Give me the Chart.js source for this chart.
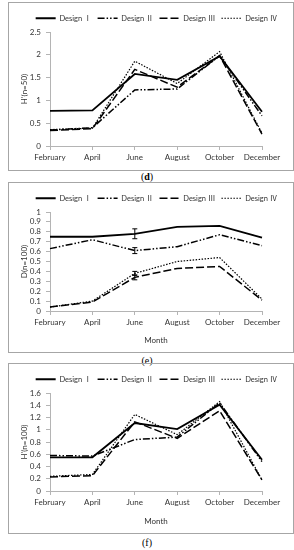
<!DOCTYPE html>
<html>
<head>
<meta charset="utf-8">
<script src="https://cdn.jsdelivr.net/npm/chart.js@4.4.0/dist/chart.umd.min.js"></script>
<style>
  body { margin: 0; background: #fff; width: 294px; height: 550px; position: relative; overflow: hidden; }
  .box { position: absolute; left: 8px; width: 284px; border: 1px solid #a6a6a6; }
  .box canvas { display: block; }
  .cap { position: absolute; left: 0; width: 294px; text-align: center; font-family: 'Liberation Serif', serif; font-size: 10px; color: #000; }
</style>
</head>
<body>
<div class="box" style="top:2px;height:167px"><canvas id="chartD" width="284" height="167"></canvas></div>
<div class="cap" style="top:171px">(<b>d</b>)</div>
<div class="box" style="top:182px;height:169px"><canvas id="chartE" width="284" height="169"></canvas></div>
<div class="cap" style="top:355px">(e)</div>
<div class="box" style="top:363px;height:169px"><canvas id="chartF" width="284" height="169"></canvas></div>
<div class="cap" style="top:537px">(f)</div>

<script>
const months = ['February', 'April', 'June', 'August', 'October', 'December'];
const designs = ['Design \u2160', 'Design \u2161', 'Design \u2162', 'Design \u2163'];

// (d) H'(n=50)
const hd1 = [0.77, 0.78, 1.58, 1.45, 1.97, 0.75];
const hd2 = [0.35, 0.40, 1.23, 1.25, 1.98, 0.66];
const hd3 = [0.34, 0.38, 1.68, 1.29, 1.98, 0.26];
const hd4 = [0.36, 0.39, 1.86, 1.37, 2.07, 0.28];

// (e) D(n=100)
const de1 = [0.75, 0.75, 0.78, 0.85, 0.86, 0.74];
const de2 = [0.63, 0.72, 0.61, 0.65, 0.77, 0.66];
const de3 = [0.04, 0.09, 0.34, 0.43, 0.45, 0.11];
const de4 = [0.04, 0.10, 0.38, 0.50, 0.54, 0.12];
// error bars (+/-) for (e)
const errE1 = [0, 0, 0.05, 0, 0, 0];
const errE2 = [0, 0, 0.03, 0, 0, 0];
const errE3 = [0, 0, 0.025, 0, 0, 0];
const errE4 = [0, 0, 0.02, 0, 0, 0];

// (f) H'(n=100)
const hf1 = [0.55, 0.55, 1.11, 1.01, 1.41, 0.51];
const hf2 = [0.58, 0.57, 0.84, 0.88, 1.44, 0.48];
const hf3 = [0.23, 0.25, 1.13, 0.86, 1.31, 0.18];
const hf4 = [0.24, 0.27, 1.25, 0.92, 1.46, 0.18];

const FONT = "Lato, 'Noto Sans CJK SC', sans-serif";
const AXIS_GREY = '#b4b4b4';
const TXT = '#333';

// line looks per design
const looks = [
  { borderWidth: 1.8, borderDash: [] },
  { borderWidth: 1.5, borderDash: [7, 2, 1.5, 2, 1.5, 2] },
  { borderWidth: 1.5, borderDash: [8, 3] },
  { borderWidth: 1.2, borderDash: [1.5, 1.5] }
];

// simple error bar drawing through the y scale
const errorBars = {
  id: 'errorBars',
  afterDatasetsDraw(chart, args, opts) {
    if (!opts.errs) return;
    const ctx = chart.ctx;
    const xs = chart.scales.x, ys = chart.scales.y;
    ctx.save();
    ctx.strokeStyle = '#000';
    ctx.lineWidth = 1;
    opts.errs.forEach((err, di) => {
      const vals = chart.data.datasets[di].data;
      err.forEach((e, i) => {
        if (!e) return;
        const x = xs.getPixelForValue(i);
        const y1 = ys.getPixelForValue(vals[i] - e);
        const y2 = ys.getPixelForValue(vals[i] + e);
        ctx.beginPath();
        ctx.moveTo(x, y1); ctx.lineTo(x, y2);
        ctx.moveTo(x - 2.5, y1); ctx.lineTo(x + 2.5, y1);
        ctx.moveTo(x - 2.5, y2); ctx.lineTo(x + 2.5, y2);
        ctx.stroke();
      });
    });
    ctx.restore();
  }
};

// legend samples take the dash and width of the line itself
function legendLabels(chart) {
  const items = Chart.defaults.plugins.legend.labels.generateLabels(chart);
  items.forEach(it => {
    const ds = chart.data.datasets[it.datasetIndex];
    it.lineDash = ds.borderDash;
    it.lineWidth = ds.borderWidth;
    it.strokeStyle = '#000';
    it.pointStyle = 'line';
  });
  return items;
}

function makeChart(id, series, yMax, yStep, yTitle, xTitle, xHeight, errs) {
  const datasets = series.map((vals, i) => ({
    label: designs[i],
    data: vals,
    borderColor: '#000',
    backgroundColor: '#000',
    borderWidth: looks[i].borderWidth,
    borderDash: looks[i].borderDash,
    pointRadius: 0,
    tension: 0,
    fill: false
  }));
  return new Chart(document.getElementById(id), {
    type: 'line',
    data: { labels: months, datasets },
    plugins: [errorBars],
    options: {
      responsive: false,
      animation: false,
      layout: { padding: { top: 5, bottom: 0, left: 11 } },
      plugins: {
        tooltip: { enabled: false },
        errorBars: { errs },
        legend: {
          position: 'top',
          labels: {
            usePointStyle: true,
            pointStyle: 'line',
            pointStyleWidth: 20,
            color: TXT,
            padding: 6,
            font: { family: FONT, size: 7.5 },
            generateLabels: legendLabels
          }
        }
      },
      scales: {
        x: {
          offset: false,
          grid: { display: true, drawOnChartArea: false, drawTicks: true, tickLength: 4, color: AXIS_GREY },
          border: { color: AXIS_GREY },
          ticks: { color: TXT, padding: 3, maxRotation: 0, autoSkip: false, font: { family: FONT, size: 8 } },
          title: { display: !!xTitle, text: xTitle, color: TXT, padding: { top: 2, bottom: 7 }, font: { family: FONT, size: 8 } },
          afterFit(scale) { scale.paddingRight = 31; scale.height = xHeight; }
        },
        y: {
          min: 0, max: yMax,
          grid: { display: true, drawOnChartArea: false, drawTicks: true, tickLength: 4, color: AXIS_GREY },
          border: { color: AXIS_GREY },
          ticks: {
            stepSize: yStep, color: TXT, padding: 5, autoSkip: false,
            font: { family: FONT, size: 8 },
            callback: v => String(parseFloat(v.toFixed(2)))
          },
          title: { display: true, text: yTitle, color: TXT, padding: 0, font: { family: FONT, size: 8 } },
          afterFit(scale) { scale.width = 30; scale.paddingTop = 29; }
        }
      }
    }
  });
}

makeChart('chartD', [hd1, hd2, hd3, hd4], 2.5, 0.5, "H'(n=50)", '', 24, null);
makeChart('chartE', [de1, de2, de3, de4], 1, 0.1, 'D(n=100)', 'Month', 41, [errE1, errE2, errE3, errE4]);
makeChart('chartF', [hf1, hf2, hf3, hf4], 1.6, 0.2, "H'(n=100)", 'Month', 42, null);
</script>
</body>
</html>
